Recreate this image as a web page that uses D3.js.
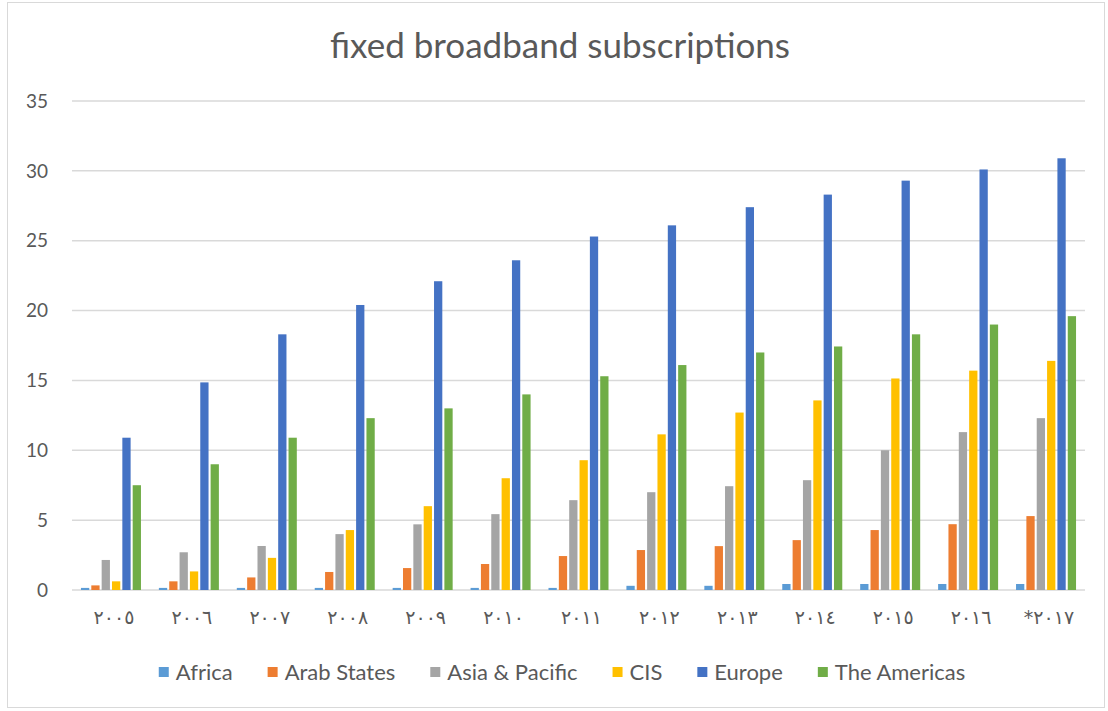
<!DOCTYPE html>
<html>
<head>
<meta charset="utf-8">
<script src="https://cdn.jsdelivr.net/npm/d3@7"></script>
<style>
  body { margin: 0; background: #fff; }
  svg text { font-family: Lato, "Open Sans", sans-serif; fill: #595959; }
</style>
</head>
<body>
<div id="chart"></div>
<script>
// data
const years = ["٢٠٠٥", "٢٠٠٦", "٢٠٠٧", "٢٠٠٨", "٢٠٠٩", "٢٠١٠", "٢٠١١", "٢٠١٢", "٢٠١٣", "٢٠١٤", "٢٠١٥", "٢٠١٦", "*٢٠١٧"]
const seriesNames = ["Africa", "Arab States", "Asia & Pacific", "CIS", "Europe", "The Americas"]
const africa    = [0.15, 0.15, 0.15, 0.15, 0.15, 0.15, 0.15, 0.3, 0.3, 0.43, 0.43, 0.43, 0.43]
const arab      = [0.33, 0.62, 0.9, 1.29, 1.57, 1.86, 2.43, 2.86, 3.14, 3.57, 4.29, 4.71, 5.29]
const asia      = [2.15, 2.7, 3.15, 4.0, 4.7, 5.43, 6.43, 7.0, 7.43, 7.86, 10.0, 11.3, 12.3]
const cis       = [0.62, 1.33, 2.3, 4.29, 6.0, 8.0, 9.29, 11.14, 12.7, 13.57, 15.14, 15.7, 16.4]
const europe    = [10.9, 14.86, 18.3, 20.4, 22.1, 23.6, 25.3, 26.1, 27.4, 28.3, 29.3, 30.1, 30.9]
const americas  = [7.5, 9.0, 10.9, 12.3, 13.0, 14.0, 15.3, 16.1, 17.0, 17.43, 18.3, 19.0, 19.6]
const yTicks = [0, 5, 10, 15, 20, 25, 30, 35]
const colors = ["#5B9BD5", "#ED7D31", "#A5A5A5", "#FFC000", "#4472C4", "#70AD47"]

const allSeries = [africa, arab, asia, cis, europe, americas]

const W = 1108, H = 711
const margin = {top: 101, right: 23, bottom: 121, left: 72}
const plotW = W - margin.left - margin.right
const plotH = H - margin.top - margin.bottom

const svg = d3.select("#chart").append("svg")
    .attr("width", W).attr("height", H)

// chart border
svg.append("rect")
    .attr("x", 7.5).attr("y", 2.5).attr("width", W - 11).attr("height", H - 6)
    .attr("fill", "#fff").attr("stroke", "#d9d9d9").attr("stroke-width", 1)

svg.append("text")
    .attr("x", W / 2 + 6).attr("y", 58)
    .attr("text-anchor", "middle")
    .attr("font-size", 35)
    .text("fixed broadband subscriptions")

const g = svg.append("g").attr("transform", `translate(${margin.left},${margin.top})`)

const y = d3.scaleLinear().domain([0, 35]).range([plotH, 0])
const x0 = d3.scaleBand().domain(years).range([0, plotW]).paddingInner(0.23).paddingOuter(0.115)
const x1 = d3.scaleBand().domain(seriesNames).range([0, x0.bandwidth()]).paddingInner(0.2)

// grid
g.selectAll("line.grid").data(yTicks).join("line")
    .attr("class", "grid")
    .attr("x1", 0).attr("x2", plotW)
    .attr("y1", d => y(d)).attr("y2", d => y(d))
    .attr("stroke", "#d9d9d9").attr("stroke-width", 1.5)

// y labels
g.selectAll("text.ytick").data(yTicks).join("text")
    .attr("class", "ytick")
    .attr("x", -24).attr("y", d => y(d))
    .attr("dy", "0.35em")
    .attr("text-anchor", "end")
    .attr("font-size", 19)
    .text(d => d)

// bars
const groups = g.selectAll("g.year").data(years).join("g")
    .attr("class", "year")
    .attr("transform", d => `translate(${x0(d)},0)`)

groups.selectAll("rect")
    .data((d, i) => seriesNames.map((s, j) => ({s: s, v: allSeries[j][i], c: colors[j]})))
    .join("rect")
    .attr("x", d => x1(d.s))
    .attr("width", x1.bandwidth())
    .attr("y", d => y(d.v))
    .attr("height", d => y(0) - y(d.v))
    .attr("fill", d => d.c)

// x labels
g.selectAll("text.xtick").data(years).join("text")
    .attr("class", "xtick")
    .attr("x", d => x0(d) + x0.bandwidth() / 2 + 3)
    .attr("y", plotH + 27)
    .attr("dy", "0.35em")
    .attr("text-anchor", "middle")
    .attr("font-size", 19)
    .style("font-family", "'DejaVu Sans', sans-serif")
    .text(d => d)

// legend, laid out from measured text widths and centred
const legend = svg.append("g")
const items = legend.selectAll("g").data(seriesNames).join("g")
items.append("rect")
    .attr("width", 10).attr("height", 10)
    .attr("y", -5)
    .attr("fill", (d, i) => colors[i])
items.append("text")
    .attr("x", 17).attr("dy", "0.35em")
    .attr("font-size", 22)
    .text(d => d)

let cursor = 0
items.each(function () {
    const w = d3.select(this).select("text").node().getComputedTextLength()
    d3.select(this).attr("transform", `translate(${cursor},0)`)
    cursor += 17 + w + 35
})
const legendW = cursor - 35
legend.attr("transform", `translate(${(W - legendW) / 2 + 8},672)`)
</script>
</body>
</html>
